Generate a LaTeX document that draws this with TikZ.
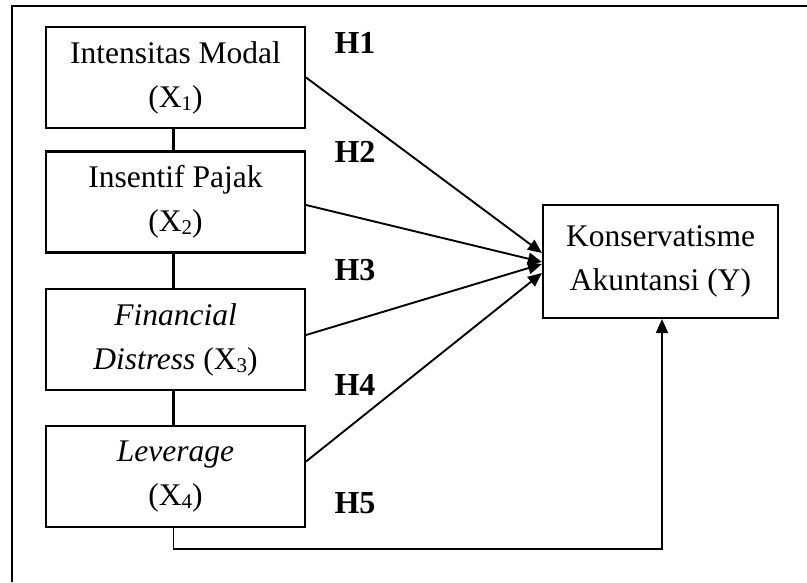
\documentclass[tikz,border=0pt]{standalone}
\usepackage{fontspec}
\setmainfont{Liberation Serif}
\usetikzlibrary{arrows.meta,calc}
\newcommand{\subdig}[1]{\raisebox{-3pt}{\fontsize{21}{21}\selectfont #1}}
\begin{document}
\begin{tikzpicture}[x=1pt,y=-1pt,
  box/.style={draw, line width=2.1pt, inner sep=0pt, align=center,
    font=\fontsize{31.5}{44}\selectfont},
  varbox/.style={box, minimum width=259pt, minimum height=101pt},
  lbl/.style={font=\fontsize{32}{36}\selectfont\bfseries, inner sep=0pt},
  link/.style={line width=2.1pt},
  arr/.style={line width=1.9pt, -{Triangle[length=14pt,width=12pt]}},
  frame/.style={line width=2.5pt}]
\useasboundingbox (0,0) rectangle (807,582);
% frame
\coordinate (fa) at (807,6);
\coordinate (fb) at (12,6);
\coordinate (fc) at (12,582);
\draw[frame] (fa) -- (fb) -- (fc);
% boxes
\node[varbox] (b1) at (175.5,77.5) {Intensitas Modal\\(X\subdig{1})};
\node[varbox] (b2) at (175.5,202) {Insentif Pajak\\(X\subdig{2})};
\node[varbox] (b3) at (175.5,339.5) {\textit{Financial}\\\textit{Distress} (X\subdig{3})};
\node[varbox] (b4) at (175.5,476.5) {\textit{Leverage}\\(X\subdig{4})};
\node[box, minimum width=235pt, minimum height=113pt] (y) at (660.5,261.5) {Konservatisme\\Akuntansi (Y)};
% vertical links
\draw[link] ([xshift=-2pt]b1.south) -- ([xshift=-2pt]b2.north);
\draw[link] ([xshift=-2pt]b2.south) -- ([xshift=-2pt]b3.north);
\draw[link] ([xshift=-2pt]b3.south) -- ([xshift=-2pt]b4.north);
% arrows
\draw[arr] (b1.east) -- ([yshift=8.5pt]y.west);
\draw[arr] ([yshift=-3pt]b2.east) -- ([yshift=-0.5pt]y.west);
\draw[arr] ([yshift=4.5pt]b3.east) -- ([yshift=-2.5pt]y.west);
\draw[arr] ([yshift=15pt]b4.east) -- ([yshift=-11.5pt]y.west);
\coordinate (k) at ($(b4.south)+(-2,21)$);
\draw[arr] ([xshift=-2pt]b4.south) -- (k) -| ([xshift=1.5pt]y.south);
% labels
\node[lbl] (h1) at (355,43) {H1};
\node[lbl] (h2) at (355,152) {H2};
\node[lbl] (h3) at (355,270) {H3};
\node[lbl] (h4) at (355,385) {H4};
\node[lbl] (h5) at (355,503) {H5};
\end{tikzpicture}
\end{document}
